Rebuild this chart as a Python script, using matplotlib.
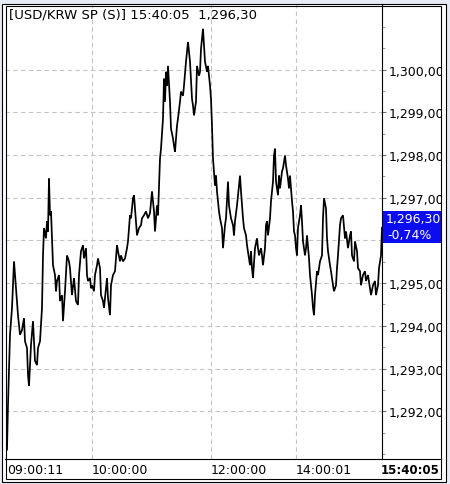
import numpy as np
import matplotlib.pyplot as plt
from matplotlib.patches import Rectangle
from matplotlib.lines import Line2D
from matplotlib.ticker import AutoMinorLocator

# --- data (bar number within session, price) ---
bar = [
    0, 1, 2, 3, 5, 7, 9, 11, 13, 15,
    17, 18, 20, 21, 22, 24, 26, 28, 30, 31,
    33, 35, 36, 37, 39, 40, 41, 42, 43, 44,
    46, 48, 49, 50, 52, 53, 55, 56, 58, 60,
    62, 63, 65, 67, 69, 71, 72, 74, 76, 77,
    79, 80, 81, 83, 84, 85, 87, 88, 90, 91,
    93, 94, 96, 97, 99, 100, 101, 103, 104, 106,
    108, 110, 111, 113, 114, 116, 118, 120, 121, 123,
    124, 126, 127, 129, 130, 132, 134, 135, 137, 139,
    141, 143, 145, 147, 148, 150, 151, 153, 154, 156,
    157, 158, 159, 160, 161, 163, 164, 166, 167, 168,
    170, 171, 173, 174, 176, 177, 179, 181, 182, 183,
    185, 186, 187, 189, 190, 192, 193, 194, 196, 197,
    198, 200, 201, 203, 204, 205, 206, 207, 208, 209,
    210, 212, 213, 215, 216, 218, 219, 221, 222, 224,
    226, 227, 228, 230, 231, 233, 234, 236, 237, 239,
    240, 242, 243, 244, 245, 246, 248, 250, 251, 252,
    254, 255, 256, 258, 259, 260, 261, 263, 264, 266,
    267, 268, 269, 271, 272, 273, 275, 276, 278, 279,
    281, 282, 283, 285, 286, 287, 288, 289, 290, 291,
    293, 294, 295, 296, 298, 299, 300, 302, 303, 305,
    306, 307, 308, 310, 311, 313, 315, 316, 317, 319,
    320, 321, 323, 324, 326, 327, 329, 330, 331, 333,
    334, 336, 338, 339, 341, 343, 344, 345, 347, 348,
    350, 351, 353, 354, 356, 358, 359, 361, 363, 364,
    366, 368, 369, 371, 372, 374, 375,
]
price = [
    1291.10, 1292.15, 1293.01, 1293.79, 1294.42, 1295.51, 1294.88, 1294.25, 1293.79, 1293.90,
    1294.18, 1293.64, 1293.48, 1292.85, 1292.59, 1293.55, 1294.11, 1293.18, 1293.08, 1293.48,
    1293.64, 1294.42, 1295.65, 1296.29, 1296.05, 1296.45, 1296.21, 1297.45, 1296.59, 1296.68,
    1295.42, 1295.19, 1294.81, 1295.05, 1295.19, 1294.58, 1294.72, 1294.11, 1294.81, 1295.65,
    1295.51, 1295.35, 1294.72, 1295.12, 1294.58, 1294.49, 1295.19, 1295.75, 1295.89, 1295.58,
    1295.82, 1295.19, 1295.05, 1295.12, 1294.88, 1294.95, 1294.81, 1295.19, 1295.42, 1295.58,
    1295.35, 1294.72, 1294.58, 1294.42, 1294.88, 1295.12, 1294.65, 1294.25, 1294.95, 1295.19,
    1295.28, 1295.89, 1295.75, 1295.51, 1295.65, 1295.51, 1295.58, 1295.82, 1295.98, 1296.59,
    1296.52, 1296.99, 1297.06, 1296.45, 1296.12, 1296.29, 1296.36, 1296.52, 1296.59, 1296.68,
    1296.52, 1296.64, 1297.15, 1296.68, 1296.21, 1296.82, 1296.59, 1297.92, 1298.15, 1298.86,
    1299.79, 1299.25, 1299.95, 1299.63, 1300.09, 1299.25, 1298.62, 1298.39, 1298.22, 1298.08,
    1298.69, 1298.86, 1299.25, 1299.49, 1299.39, 1299.63, 1300.19, 1300.65, 1300.42, 1300.19,
    1299.32, 1299.16, 1298.93, 1299.25, 1300.09, 1299.86, 1299.95, 1300.49, 1300.96, 1300.56,
    1300.19, 1299.95, 1300.09, 1299.63, 1299.32, 1298.69, 1297.92, 1297.62, 1297.29, 1297.52,
    1297.15, 1296.68, 1296.52, 1296.29, 1295.82, 1296.36, 1296.52, 1297.38, 1296.82, 1296.52,
    1296.36, 1296.12, 1296.45, 1296.82, 1297.06, 1297.52, 1297.15, 1296.52, 1296.29, 1296.12,
    1295.89, 1295.58, 1295.42, 1295.75, 1295.35, 1295.12, 1295.82, 1296.05, 1295.82, 1295.65,
    1295.82, 1295.65, 1295.42, 1295.82, 1296.36, 1296.45, 1296.12, 1296.52, 1296.92, 1297.38,
    1297.99, 1298.15, 1297.38, 1297.06, 1297.52, 1297.22, 1297.62, 1297.69, 1297.99, 1297.76,
    1297.45, 1297.22, 1297.52, 1296.92, 1296.68, 1296.21, 1296.12, 1295.82, 1295.65, 1296.29,
    1296.59, 1296.82, 1296.45, 1295.98, 1295.65, 1295.82, 1296.12, 1295.58, 1295.19, 1294.72,
    1294.42, 1294.25, 1294.72, 1295.28, 1295.19, 1295.51, 1295.65, 1296.52, 1296.99, 1296.75,
    1296.05, 1295.75, 1295.42, 1295.28, 1294.95, 1294.81, 1294.95, 1295.35, 1295.65, 1296.36,
    1296.52, 1296.59, 1296.05, 1296.21, 1295.82, 1296.12, 1296.21, 1295.65, 1295.51, 1295.98,
    1295.75, 1295.35, 1295.28, 1294.95, 1295.19, 1295.28, 1295.05, 1295.19, 1294.88, 1294.72,
    1294.95, 1295.05, 1294.72, 1294.95, 1295.35, 1295.65, 1296.30,
]

time_bars = [0, 85, 204, 289]
time_labels = ["09:00:11", "10:00:00", "12:00:00", "14:00:01"]
last_time = "15:40:05"

y_ticks = [1292, 1293, 1294, 1295, 1296, 1297, 1298, 1299, 1300]
y_labels = ["1,292,00", "1,293,00", "1,294,00", "1,295,00", "1,296,00",
            "1,297,00", "1,298,00", "1,299,00", "1,300,00"]

title = "[USD/KRW SP (S)] 15:40:05  1,296,30"
last_price = "1,296,30"
change_pct = "-0,74%"

# --- figure in pixel units ---
W, H = 450, 485
bg = "#e6ebf5"
plt.rcParams["font.family"] = ["DejaVu Sans"]


def fx(px):
    return px / W


def fy(py):
    return 1 - py / H


fig = plt.figure(figsize=(W / 100, H / 100), dpi=100, facecolor=bg)

# white panel behind everything
fig.add_artist(Rectangle((fx(2), fy(483)), fx(445.5) - fx(2), fy(4.5) - fy(483),
                         transform=fig.transFigure, facecolor="white",
                         edgecolor="none", zorder=-2))

ax = fig.add_axes([fx(5), fy(460), fx(382) - fx(5), fy(5) - fy(460)])
ax.plot(bar, price, color="black", lw=1.25, solid_joinstyle="miter")

ax.set_xlim(-2, 375)
ax.set_ylim(1290.88, 1301.54)

for s in ["left", "top"]:
    ax.spines[s].set_visible(False)
for s in ["right", "bottom"]:
    ax.spines[s].set_color("black")
    ax.spines[s].set_linewidth(0.8)

ax.set_xticks(time_bars[1:])
ax.set_xticklabels([])
ax.tick_params(axis="x", length=0)

ax.yaxis.tick_right()
ax.set_yticks(y_ticks)
ax.set_yticklabels(y_labels)
ax.yaxis.set_minor_locator(AutoMinorLocator(2))
ax.tick_params(axis="y", which="major", length=3, width=0.8, color="#707070",
               pad=1.5, labelsize=9, labelcolor="black")
ax.tick_params(axis="y", which="minor", length=2.5, width=0.8, color="#a0a0a0")

# the last-price box sits on top of this label
for t, lab in zip(y_ticks, ax.get_yticklabels()):
    if lab.get_text() == "1,296,00":
        lab.set_visible(False)

ax.grid(True, which="major", color="#c4c4c4", linestyle=(0, (4, 3)), lw=0.8)

# time labels in the strip under the chart
for b, lab in zip(time_bars, time_labels):
    ax.text(b, -0.023, lab, transform=ax.get_xaxis_transform(),
            ha="left", va="center", fontsize=9)
fig.text(fx(440), fy(470.5), last_time, ha="right", va="center",
         fontsize=8.5, fontweight="bold")

# title
fig.text(fx(9), fy(15), title, ha="left", va="center", fontsize=9.5)

# last price box
fig.add_artist(Rectangle((fx(382.5), fy(244)), fx(441) - fx(382.5), fy(212) - fy(244),
                         transform=fig.transFigure, facecolor="#0c0cf0",
                         edgecolor="none", zorder=5))
fig.text(fx(386), fy(220), last_price, color="white", ha="left", va="center",
         fontsize=9, zorder=6)
fig.text(fx(387), fy(236), change_pct, color="white", ha="left", va="center",
         fontsize=9, zorder=6)

# cover overflow of the y labels past the frame
fig.add_artist(Rectangle((fx(441), 0), 1 - fx(441), 1, transform=fig.transFigure,
                         facecolor=bg, edgecolor="none", zorder=7))
fig.add_artist(Rectangle((fx(441), fy(483)), fx(445.5) - fx(441), fy(4.5) - fy(483),
                         transform=fig.transFigure, facecolor="white",
                         edgecolor="none", zorder=7.5))

# frame lines
fig.add_artist(Rectangle((fx(2), fy(483)), fx(445.5) - fx(2), fy(4.5) - fy(483),
                         transform=fig.transFigure, fill=False,
                         edgecolor="black", lw=0.8, zorder=8))
fig.add_artist(Rectangle((fx(5.5), fy(480)), fx(441) - fx(5.5), fy(6.5) - fy(480),
                         transform=fig.transFigure, fill=False,
                         edgecolor="black", lw=0.8, zorder=8))
fig.add_artist(Line2D([fx(382), fx(441)], [fy(460), fy(460)],
                      transform=fig.transFigure, color="black", lw=0.8, zorder=8))

fig.savefig("out.png", dpi=100, facecolor=bg)
